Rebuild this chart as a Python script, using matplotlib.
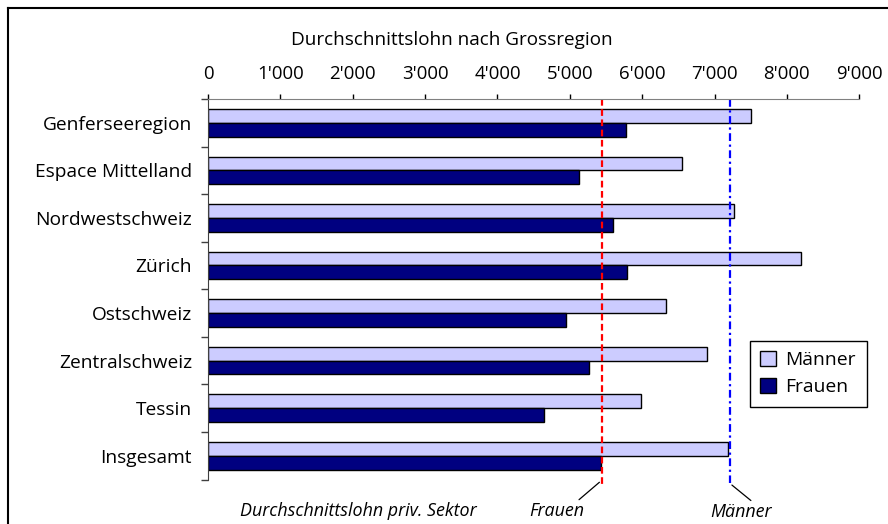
import matplotlib
matplotlib.use("Agg")
import matplotlib.pyplot as plt
import numpy as np
from matplotlib.ticker import FixedLocator, FuncFormatter

plt.rcParams['font.family'] = ['Open Sans', 'DejaVu Sans']

regionen = ["Genferseeregion", "Espace Mittelland", "Nordwestschweiz", "Zürich",
            "Ostschweiz", "Zentralschweiz", "Tessin", "Insgesamt"]
maenner = [7510, 6550, 7275, 8195, 6335, 6900, 5985, 7180]
frauen = [5775, 5125, 5595, 5790, 4950, 5260, 4640, 5435]
schnitt_frauen = 5438
schnitt_maenner = 7210
x_ticks = [0, 1000, 2000, 3000, 4000, 5000, 6000, 7000, 8000, 9000]

W, H = 888, 524
fig = plt.figure(figsize=(W / 100, H / 100), dpi=100)
ax = fig.add_axes([208 / W, 1 - 479.5 / H, 651.3 / W, 380.5 / H])

y = np.arange(len(regionen))
bh = 0.29
ax.barh(y - bh / 2, maenner, height=bh, color="#CCCCFF", edgecolor="black",
        linewidth=1, label="Männer")
ax.barh(y + bh / 2, frauen, height=bh, color="#000080", edgecolor="black",
        linewidth=1, label="Frauen")

ax.set_xlim(0, 9000)
ax.set_ylim(len(regionen) - 0.5, -0.5)

# Durchschnittslinien
ax.plot([schnitt_frauen, schnitt_frauen], [-0.5, 7.6], color="red", lw=1.6,
        dashes=(3, 1.6), clip_on=False)
ax.plot([schnitt_maenner, schnitt_maenner], [-0.5, 7.58], color="blue", lw=1.6,
        dashes=(3.5, 1.6, 1, 1.6), clip_on=False)

ax.xaxis.tick_top()
ax.set_xticks(x_ticks)
ax.xaxis.set_major_formatter(FuncFormatter(lambda v, p: f"{int(v):,}".replace(",", "'")))
ax.tick_params(axis="x", length=3.6, width=1, pad=8, labelsize=13.4, color="black")

ax.set_yticks(y)
ax.set_yticklabels(regionen)
ax.yaxis.set_minor_locator(FixedLocator(np.arange(-0.5, len(regionen), 1)))
ax.tick_params(axis="y", which="major", length=0, pad=11.5, labelsize=13.8)
ax.tick_params(axis="y", which="minor", length=5, width=1, color="#404040")

for s in ["right", "bottom"]:
    ax.spines[s].set_visible(False)
ax.spines["top"].set_color("#808080")
ax.spines["left"].set_color("#404040")

leg = ax.legend(loc="upper left", bbox_to_anchor=(0.832, 0.365), fontsize=13.9,
                frameon=True, fancybox=False, edgecolor="black", framealpha=1,
                handlelength=0.8, handleheight=0.8, handletextpad=0.5,
                borderpad=0.55, labelspacing=0.45, borderaxespad=0)
leg.get_frame().set_linewidth(1)

fig.text(452 / W, 1 - 40 / H, "Durchschnittslohn nach Grossregion", ha="center",
         va="center", fontsize=13.6)

fig.text(358 / W, 1 - 511 / H, "Durchschnittslohn priv. Sektor", ha="center",
         va="center", fontsize=12.9, style="italic")
ax.annotate("Frauen", xy=(schnitt_frauen, 7.52), xytext=(-45, -31),
            textcoords="offset pixels", ha="center", va="center", fontsize=12.9,
            style="italic", annotation_clip=False,
            arrowprops=dict(arrowstyle="-", color="black", lw=0.9, shrinkA=0,
                            shrinkB=2, relpos=(0.85, 1)))
ax.annotate("Männer", xy=(schnitt_maenner, 7.58), xytext=(11, -29),
            textcoords="offset pixels", ha="center", va="center", fontsize=12.9,
            style="italic", annotation_clip=False,
            arrowprops=dict(arrowstyle="-", color="black", lw=0.9, shrinkA=0,
                            shrinkB=2, relpos=(0.72, 1)))

# Rahmen
fig.add_artist(plt.Line2D([8 / W, 8 / W], [0, 1 - 7.5 / H], color="black", lw=1.5))
fig.add_artist(plt.Line2D([8 / W, 1], [1 - 7.5 / H, 1 - 7.5 / H], color="black", lw=1.5))

fig.savefig("out.png", dpi=100)
